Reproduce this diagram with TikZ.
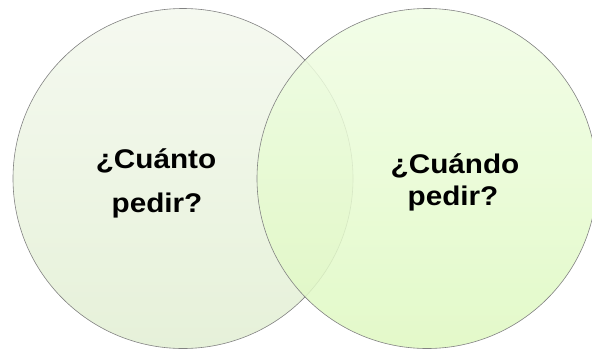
\documentclass[tikz,border=0pt]{standalone}
\usepackage{fontspec}
\usepackage{tikz}
\usetikzlibrary{positioning}
\newfontfamily\vennfont[FakeStretch=1.1]{Liberation Sans}

\definecolor{leftTop}{RGB}{245,249,240}
\definecolor{leftBot}{RGB}{230,241,217}
\definecolor{rightTop}{RGB}{240,253,228}
\definecolor{rightBot}{RGB}{222,248,192}
\definecolor{rimGray}{RGB}{130,130,130}

\tikzset{
  venntext/.style={anchor=base, inner sep=0pt, font=\vennfont\bfseries\fontsize{27}{32}\selectfont}
}

\begin{document}
\begin{tikzpicture}[x=1pt,y=-1pt]
 \useasboundingbox (0,0) rectangle (592,349);
 \clip (0,0) rectangle (592,349);
 \begin{scope}
  \shade[top color=leftTop, bottom color=leftBot] (183,178.5) circle (170);
  \draw[rimGray, line width=.6pt] (183,178.5) circle (170);
  \node[venntext] (cuanto) at (156,168) {¿Cuánto};
  \node[venntext] (cuantoB) at (157,212) {pedir?};
 \end{scope}
 \begin{scope}
  \shade[top color=rightTop, bottom color=rightBot, fill opacity=.85] (427,178.5) circle (170);
  \draw[rimGray, line width=.6pt] (427,178.5) circle (170);
  \node[venntext] (cuando) at (455,173) {¿Cuándo};
  \node[venntext] (cuandoB) at (453,205) {pedir?};
 \end{scope}
\end{tikzpicture}
\end{document}
